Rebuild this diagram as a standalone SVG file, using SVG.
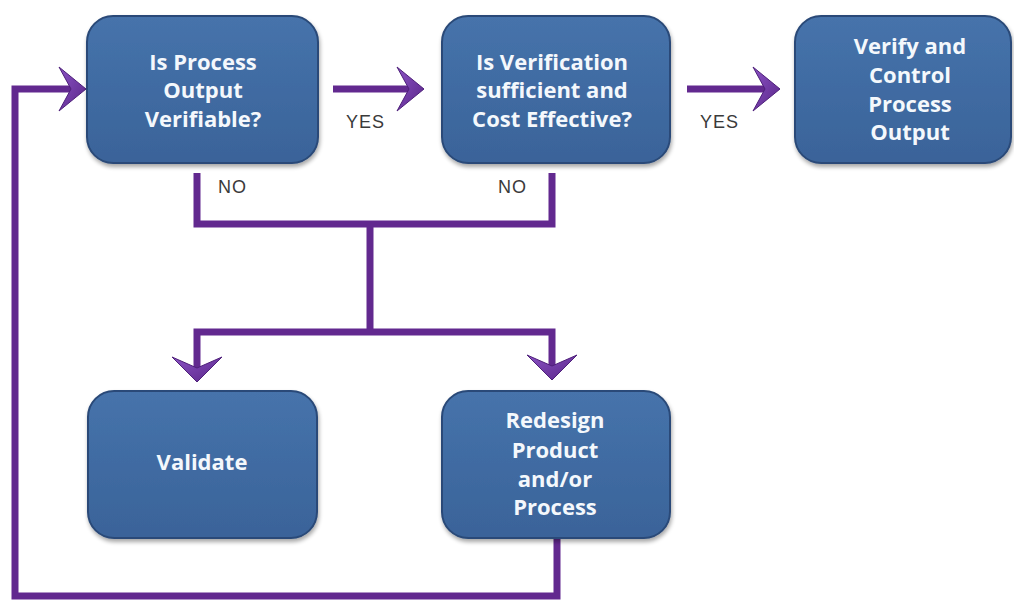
<svg xmlns="http://www.w3.org/2000/svg" width="1014" height="603" viewBox="0 0 1014 603">
<defs>
  <linearGradient id="boxg" x1="0" y1="0" x2="0" y2="1">
    <stop offset="0" stop-color="#4673ab"/>
    <stop offset="1" stop-color="#3a6399"/>
  </linearGradient>
  <filter id="sh" x="-10%" y="-10%" width="125%" height="130%">
    <feGaussianBlur in="SourceAlpha" stdDeviation="2"/>
    <feOffset dx="1" dy="3"/>
    <feComponentTransfer><feFuncA type="linear" slope="0.35"/></feComponentTransfer>
    <feMerge><feMergeNode/><feMergeNode in="SourceGraphic"/></feMerge>
  </filter>
  <linearGradient id="headg" x1="0" y1="0" x2="1" y2="1">
    <stop offset="0" stop-color="#8a52c4"/>
    <stop offset="1" stop-color="#5a2688"/>
  </linearGradient>
</defs>
<style>
  .box { fill: url(#boxg); stroke: #2a4a78; stroke-width: 2; filter: url(#sh); }
  .t { font-family: "Open Sans", "Liberation Sans", sans-serif; font-weight: bold; font-size: 22px; fill: #f4f8fc; text-anchor: middle; }
  .lbl { font-family: "Liberation Sans", Arial, sans-serif; font-size: 18px; fill: #3a3a3a; letter-spacing: 1px; }
  .ln { fill: none; stroke: #62298f; stroke-width: 7; stroke-linejoin: miter; stroke-linecap: butt; }
  .head { fill: url(#headg); stroke: #4e1f7a; stroke-width: 1; }
</style>
<rect width="1014" height="603" fill="#ffffff"/>

<g id="connectors">
  <!-- YES arrow 1 -->
  <path class="ln" d="M333,89 H412"/>
  <polygon class="head" points="424,89 397,67 409,89 397,111"/>
  <!-- YES arrow 2 -->
  <path class="ln" d="M687,89 H768"/>
  <polygon class="head" points="780,89 753,67 765,89 753,111"/>
  <!-- NO merge -->
  <path class="ln" d="M197,173 V224 H552 V173"/>
  <path class="ln" d="M370,224 V332"/>
  <path class="ln" d="M197,370 V332 H552 V368"/>
  <polygon class="head" points="197,382 172,357 197,368 222,357"/>
  <polygon class="head" points="552,380 527,355 552,366 577,355"/>
  <!-- feedback loop -->
  <path class="ln" d="M557,538 V596 H15 V89 H74"/>
  <polygon class="head" points="86,89 59,67 71,89 59,111"/>
</g>

<g id="labels">
  <text class="lbl" x="346" y="128">YES</text>
  <text class="lbl" x="700" y="128">YES</text>
  <text class="lbl" x="218" y="193">NO</text>
  <text class="lbl" x="498" y="193">NO</text>
</g>

<g id="node-verifiable">
  <rect class="box" x="87" y="16" width="231" height="147" rx="26"/>
  <text class="t" x="203" y="70">Is Process</text>
  <text class="t" x="203" y="98">Output</text>
  <text class="t" x="203" y="127">Verifiable?</text>
</g>

<g id="node-sufficient">
  <rect class="box" x="442" y="16" width="228" height="147" rx="26"/>
  <text class="t" x="552" y="70">Is Verification</text>
  <text class="t" x="552" y="98">sufficient and</text>
  <text class="t" x="552" y="127">Cost Effective?</text>
</g>

<g id="node-verify-control">
  <rect class="box" x="795" y="16" width="216" height="147" rx="26"/>
  <text class="t" x="910" y="54">Verify and</text>
  <text class="t" x="910" y="83">Control</text>
  <text class="t" x="910" y="112">Process</text>
  <text class="t" x="910" y="140">Output</text>
</g>

<g id="node-validate">
  <rect class="box" x="88" y="391" width="229" height="147" rx="26"/>
  <text class="t" x="202" y="470">Validate</text>
</g>

<g id="node-redesign">
  <rect class="box" x="442" y="391" width="228" height="147" rx="26"/>
  <text class="t" x="555" y="428">Redesign</text>
  <text class="t" x="555" y="458">Product</text>
  <text class="t" x="555" y="487">and/or</text>
  <text class="t" x="555" y="515">Process</text>
</g>
</svg>
